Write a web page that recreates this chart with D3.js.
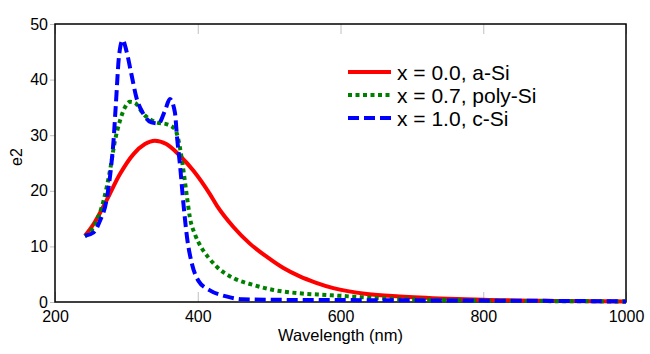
<!DOCTYPE html>
<html>
<head>
<meta charset="utf-8">
<script src="https://cdn.jsdelivr.net/npm/d3@7"></script>
<style>
  body { margin: 0; background: #fff; }
  svg { display: block; font-family: "Liberation Sans", Arial, sans-serif; }
  .axis text { font-size: 16px; fill: #000; }
  .axis line { stroke: #c0c0c0; stroke-width: 1; }
  .axis path { display: none; }
</style>
</head>
<body>
<div id="chart"></div>
<script>
// wavelength (nm) and e2 values
const lamASi = [242, 255, 272, 291, 310, 326, 340, 356, 375, 394, 417, 427, 450, 473, 497, 520, 543, 565, 590, 637, 683, 750, 800, 900, 1000];
const e2ASi = [11.9, 14.2, 18.2, 23.0, 26.6, 28.4, 29.0, 28.4, 26.3, 23.6, 19.4, 17.3, 13.5, 10.5, 8.1, 6.1, 4.6, 3.5, 2.5, 1.45, 1.0, 0.6, 0.4, 0.2, 0.1];

const lamPoly = [242, 256, 268, 277, 284, 291, 298, 305, 312, 324, 342, 356, 368, 375, 380, 385, 389, 396, 405, 415, 427, 450, 478, 506, 543, 581, 618, 655, 700, 750, 800, 900, 1000];
const e2Poly = [11.8, 14.0, 18.2, 23.6, 29.0, 32.6, 35.0, 36.0, 35.8, 33.8, 32.3, 32.0, 31.1, 27.8, 23.6, 18.8, 15.2, 12.2, 9.8, 8.0, 6.3, 4.3, 3.06, 2.16, 1.56, 1.26, 0.96, 0.66, 0.5, 0.35, 0.25, 0.15, 0.1];

const lamCSi = [242, 254, 263, 272, 279, 282, 285, 290, 295, 300, 307, 314, 324, 335, 345, 354, 361, 368, 371, 375, 380, 385, 392, 401, 417, 440, 463, 500, 600, 700, 800, 900, 1000];
const e2CSi = [11.9, 12.5, 14.6, 18.2, 24.8, 29.0, 35.0, 44.6, 47.1, 45.2, 41.0, 36.8, 33.8, 32.3, 32.1, 34.4, 36.5, 34.1, 29.6, 24.8, 17.6, 11.6, 6.8, 3.8, 2.1, 1.0, 0.5, 0.4, 0.35, 0.3, 0.25, 0.2, 0.1];

const seriesNames = ["x = 0.0, a-Si", "x = 0.7, poly-Si", "x = 1.0, c-Si"];
const xTicks = [200, 400, 600, 800, 1000];
const yTicks = [0, 10, 20, 30, 40, 50];

const series = [
  { name: seriesNames[0], lam: lamASi, e2: e2ASi, color: "#ff0000", dash: null },
  { name: seriesNames[1], lam: lamPoly, e2: e2Poly, color: "#008000", dash: "4,3.5" },
  { name: seriesNames[2], lam: lamCSi, e2: e2CSi, color: "#0000ff", dash: "11,5" }
];

const width = 650, height = 354;
const margin = { top: 24, right: 24, bottom: 52, left: 55 };
const w = width - margin.left - margin.right;
const h = height - margin.top - margin.bottom;

const svg = d3.select("#chart").append("svg")
  .attr("width", width)
  .attr("height", height);

const g = svg.append("g")
  .attr("transform", "translate(" + margin.left + "," + margin.top + ")");

const x = d3.scaleLinear().domain([200, 1000]).range([0, w]);
const y = d3.scaleLinear().domain([0, 50]).range([h, 0]);

// bottom axis, ticks pointing inward
g.append("g")
  .attr("class", "axis")
  .attr("transform", "translate(0," + h + ")")
  .call(d3.axisBottom(x).tickValues(xTicks).tickFormat(d3.format("d"))
    .tickSizeInner(-10).tickSizeOuter(0).tickPadding(9));

// top ticks, no labels
g.append("g")
  .attr("class", "axis")
  .call(d3.axisTop(x).tickValues(xTicks).tickSizeInner(-10).tickSizeOuter(0).tickFormat(""));

// left axis, short ticks outside
g.append("g")
  .attr("class", "axis")
  .call(d3.axisLeft(y).tickValues(yTicks).tickSizeInner(5).tickSizeOuter(0).tickPadding(2));

// frame
g.append("rect")
  .attr("width", w)
  .attr("height", h)
  .attr("fill", "none")
  .attr("stroke", "#000")
  .attr("stroke-width", 1.5);

const line = d3.line()
  .x(d => x(d[0]))
  .y(d => y(d[1]))
  .curve(d3.curveMonotoneX);

series.forEach(s => {
  g.append("path")
    .datum(d3.zip(s.lam, s.e2))
    .attr("d", line)
    .attr("fill", "none")
    .attr("stroke", s.color)
    .attr("stroke-width", 4)
    .attr("stroke-dasharray", s.dash);
});

// axis titles
svg.append("text")
  .attr("x", margin.left + w / 2)
  .attr("y", 341)
  .attr("text-anchor", "middle")
  .style("font-size", "16.5px")
  .text("Wavelength (nm)");

svg.append("text")
  .attr("transform", "translate(22,157) rotate(-90)")
  .attr("text-anchor", "middle")
  .style("font-size", "16px")
  .text("e2");

// legend
const legend = svg.append("g").attr("transform", "translate(348,72)");
series.forEach((s, i) => {
  legend.append("line")
    .attr("x1", 0).attr("x2", 43)
    .attr("y1", i * 23).attr("y2", i * 23)
    .attr("stroke", s.color)
    .attr("stroke-width", 4)
    .attr("stroke-dasharray", s.dash);
  legend.append("text")
    .attr("x", 49)
    .attr("y", i * 23 + 8)
    .style("font-size", "21px")
    .text(s.name);
});
</script>
</body>
</html>
